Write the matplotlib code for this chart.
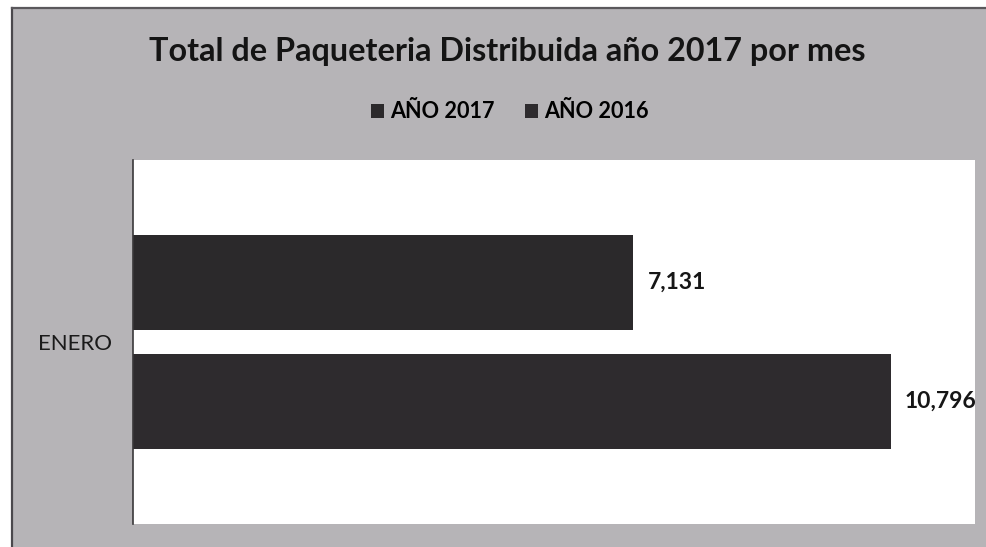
import matplotlib.pyplot as plt
from matplotlib.patches import Rectangle

categories = ['ENERO']
series = ['AÑO 2017', 'AÑO 2016']
values_2017 = [7131]
values_2016 = [10796]

plt.rcParams['font.family'] = ['Lato', 'DejaVu Sans']

W, H = 986, 547
fig = plt.figure(figsize=(W / 100, H / 100), dpi=100, facecolor='white')

# scanned grey panel with dark edge on top/left
fig.patches.append(Rectangle((12 / W, 0), 1 - 12 / W, 1 - 8 / H, transform=fig.transFigure,
                             facecolor='#b6b4b7', edgecolor='none', zorder=-10))
fig.add_artist(plt.Line2D([12 / W, 12 / W], [0, 1 - 8 / H], transform=fig.transFigure,
                          color='#4a484c', lw=1.6))
fig.add_artist(plt.Line2D([12 / W, 1], [1 - 8 / H, 1 - 8 / H], transform=fig.transFigure,
                          color='#5a585c', lw=1.6))

ax = fig.add_axes([133 / W, 23 / H, (975 - 133) / W, (524 - 160) / H])
ax.set_zorder(5)
ax.set_facecolor('white')

h = 0.261
off = 0.164
y0 = 0
b1 = ax.barh(y0 + off, values_2017[0], height=h, color='#2b292b', label=series[0])
b2 = ax.barh(y0 - off, values_2016[0], height=h, color='#2e2b2e', label=series[1])

for v, y in [(values_2017[0], y0 + off), (values_2016[0], y0 - off)]:
    ax.text(v + 200, y, f'{v:,}', va='center', ha='left', fontsize=16.5,
            fontweight='bold', color='#161616')

ax.set_xlim(0, 12000)
ax.set_ylim(-0.5, 0.5)
ax.set_xticks([])
ax.set_yticks([y0])
ax.set_yticklabels(categories, fontsize=16, color='#1a1a1a')
ax.tick_params(axis='y', length=0, pad=15)
for s in ['top', 'right', 'bottom']:
    ax.spines[s].set_visible(False)
ax.spines['left'].set_color('#3a383a')
ax.spines['left'].set_linewidth(1.2)

fig.text(0.514, 1 - 52 / H, 'Total de Paqueteria Distribuida año 2017 por mes',
         ha='center', va='center', fontsize=23.3, fontweight='bold', color='#141414')

fig.legend(handles=[b1, b2], labels=series, loc='center', bbox_to_anchor=(0.517, 1 - 112 / H),
           ncol=2, frameon=False, handlelength=0.6, handleheight=0.6, handletextpad=0.3,
           columnspacing=1.4, prop={'weight': 'bold', 'size': 15.6})

fig.savefig('out.png', dpi=100, facecolor='white')
